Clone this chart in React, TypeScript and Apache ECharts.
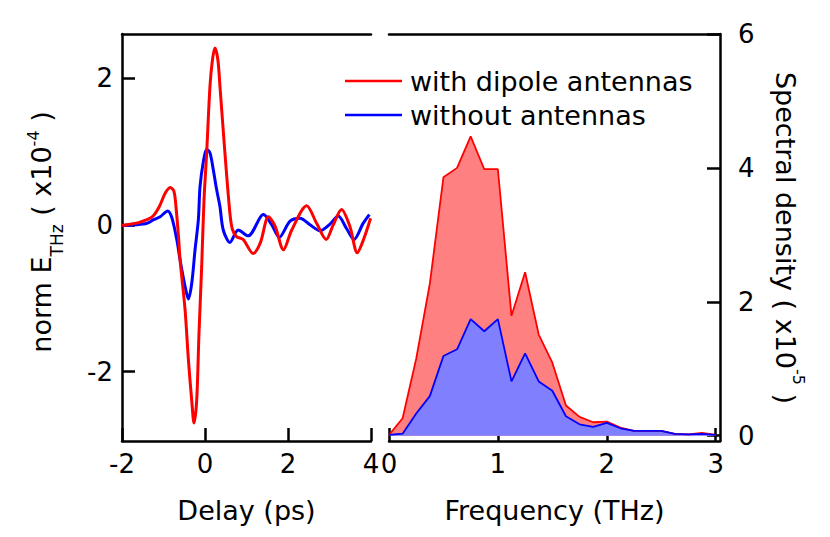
import React, { useEffect, useRef } from 'react';
import * as echarts from 'echarts';

// Time domain (left panel): delay in ps, field in units of 1e-4
const delayRed = [-2.0, -1.8, -1.6, -1.4, -1.25, -1.1, -0.96, -0.84, -0.75, -0.7, -0.64, -0.6, -0.48, -0.4, -0.32, -0.265, -0.2, -0.145, -0.08, -0.024, 0.04, 0.12, 0.18, 0.24, 0.31, 0.36, 0.48, 0.6, 0.66, 0.76, 0.92, 1.16, 1.33, 1.53, 1.69, 1.89, 2.09, 2.45, 2.69, 2.92, 3.09, 3.29, 3.49, 3.67, 3.82, 3.99];
const fieldRed = [-0.01, 0.01, 0.03, 0.07, 0.12, 0.25, 0.43, 0.51, 0.46, 0.25, -0.15, -0.48, -1.16, -1.84, -2.39, -2.7, -2.39, -1.48, -0.57, 0.34, 0.98, 1.89, 2.25, 2.41, 2.25, 1.89, 0.98, 0.16, -0.06, -0.16, -0.2, -0.39, -0.25, 0.11, -0.02, -0.34, -0.07, 0.26, 0.02, -0.2, 0.0, 0.21, -0.02, -0.38, -0.2, 0.09];
const delayBlue = [-2.0, -1.7, -1.4, -1.24, -1.08, -0.9, -0.8, -0.68, -0.6, -0.48, -0.4, -0.32, -0.24, -0.16, -0.12, -0.04, 0.04, 0.12, 0.2, 0.28, 0.36, 0.44, 0.6, 0.8, 1.04, 1.41, 1.61, 1.79, 2.05, 2.29, 2.53, 2.77, 3.01, 3.21, 3.41, 3.59, 3.81, 3.96];
const fieldBlue = [-0.01, 0.0, 0.02, 0.07, 0.11, 0.19, 0.1, -0.2, -0.48, -0.84, -1.01, -0.8, -0.34, 0.07, 0.52, 0.86, 1.03, 0.98, 0.75, 0.48, 0.25, -0.07, -0.24, -0.07, -0.15, 0.14, 0.0, -0.17, 0.05, 0.09, 0.0, -0.08, 0.01, 0.12, -0.05, -0.2, 0.02, 0.14];

// Frequency domain (right panel): THz, spectral density in units of 1e-5
const freq = [0, 0.125, 0.25, 0.375, 0.5, 0.625, 0.75, 0.875, 1.0, 1.125, 1.25, 1.375, 1.5, 1.625, 1.75, 1.875, 2.0, 2.125, 2.25, 2.375, 2.5, 2.625, 2.75, 2.875, 3.0];
const specRed = [0.01, 0.26, 1.15, 2.27, 3.86, 4.0, 4.47, 3.98, 3.98, 1.79, 2.44, 1.51, 1.09, 0.45, 0.28, 0.2, 0.21, 0.12, 0.07, 0.07, 0.07, 0.025, 0.02, 0.04, 0.01];
const specBlue = [0.01, 0.03, 0.33, 0.59, 1.19, 1.29, 1.74, 1.56, 1.74, 0.81, 1.23, 0.81, 0.67, 0.29, 0.17, 0.13, 0.19, 0.11, 0.07, 0.07, 0.07, 0.025, 0.02, 0.025, 0.01];

const delayTicks = [-2, 0, 2, 4];
const fieldTicks = [-2, 0, 2];
const freqTicks = [0, 1, 2, 3];
const specTicks = [0, 2, 4, 6];

const nameRed = 'with dipole antennas';
const nameBlue = 'without antennas';

const FONT = 'DejaVu Sans';

function zip(a: number[], b: number[]) {
  return a.map((v, i) => [v, b[i]]);
}

export default function App() {
  const ref = useRef<HTMLDivElement>(null);
  useEffect(() => {
    if (!ref.current) return;
    const chart = echarts.init(ref.current, undefined, { renderer: 'svg' });
    const axisLine = { show: true, onZero: false, lineStyle: { color: '#000', width: 2.5 } };
    const tick = (vals: number[]) => ({ show: true, inside: true, length: 13, lineStyle: { color: '#000', width: 2.5 }, customValues: vals });
    const label = (vals: number[], margin: number) => ({ show: true, color: '#000', fontSize: 26, fontFamily: FONT, margin, customValues: vals });
    const nameStyle = { color: '#000', fontSize: 27, fontFamily: FONT };
    chart.setOption({
      animation: false,
      backgroundColor: '#fff',
      grid: [
        { left: 122, top: 34, width: 249, height: 407 },
        { left: 389, top: 34, width: 331, height: 407 },
      ],
      legend: {
        data: [nameRed, nameBlue],
        orient: 'vertical',
        left: 340,
        top: 61,
        icon: 'rect',
        itemWidth: 57,
        itemHeight: 2.5,
        itemGap: 4,
        textStyle: { color: '#000', fontSize: 27, fontFamily: FONT, lineHeight: 30, padding: [0, 0, 0, 3] },
      },
      xAxis: [
        {
          type: 'value', gridIndex: 0, min: -2, max: 4, position: 'bottom',
          axisLine, axisTick: tick(delayTicks), axisLabel: label(delayTicks, 10), splitLine: { show: false },
          name: 'Delay (ps)', nameLocation: 'middle', nameGap: 56, nameTextStyle: nameStyle,
        },
        {
          type: 'value', gridIndex: 1, min: 0, max: 3.04, position: 'bottom',
          axisLine, axisTick: tick(freqTicks), axisLabel: label(freqTicks, 10), splitLine: { show: false },
          name: 'Frequency (THz)', nameLocation: 'middle', nameGap: 56, nameTextStyle: nameStyle,
        },
        {
          type: 'value', gridIndex: 0, min: -2, max: 4, position: 'top',
          axisLine, axisTick: { show: false }, axisLabel: { show: false }, splitLine: { show: false },
        },
        {
          type: 'value', gridIndex: 1, min: 0, max: 3.04, position: 'top',
          axisLine, axisTick: { show: false }, axisLabel: { show: false }, splitLine: { show: false },
        },
      ],
      yAxis: [
        {
          type: 'value', gridIndex: 0, min: -2.945, max: 2.6, position: 'left',
          axisLine, axisTick: tick(fieldTicks), axisLabel: label(fieldTicks, 9), splitLine: { show: false },
        },
        {
          type: 'value', gridIndex: 1, min: -0.08, max: 6, position: 'right',
          axisLine, axisTick: tick(specTicks), axisLabel: label(specTicks, 18), splitLine: { show: false },
        },
      ],
      graphic: [
        {
          type: 'text', x: 41, y: 232, rotation: Math.PI / 2,
          style: {
            text: '{a|norm E}{b|THz}{a| ( x10}{c|-4}{a| )}',
            fill: '#000', align: 'center', verticalAlign: 'middle', textAlign: 'center', textVerticalAlign: 'middle',
            fontSize: 27, fontFamily: FONT,
            rich: {
              a: { fontSize: 27, fontFamily: FONT, lineHeight: 27, verticalAlign: 'middle', fill: '#000' },
              b: { fontSize: 17, fontFamily: FONT, lineHeight: 17, verticalAlign: 'middle', padding: [32, 0, 0, 0], fill: '#000' },
              c: { fontSize: 16, fontFamily: FONT, lineHeight: 16, verticalAlign: 'middle', padding: [0, 0, 16, 0], fill: '#000' },
            },
          },
        },
        {
          type: 'text', x: 785, y: 238, rotation: -Math.PI / 2,
          style: {
            text: '{a|Spectral density ( x10}{c|-5}{a| )}',
            fill: '#000', align: 'center', verticalAlign: 'middle', textAlign: 'center', textVerticalAlign: 'middle',
            fontSize: 27, fontFamily: FONT,
            rich: {
              a: { fontSize: 27, fontFamily: FONT, lineHeight: 27, verticalAlign: 'middle', fill: '#000' },
              c: { fontSize: 16, fontFamily: FONT, lineHeight: 16, verticalAlign: 'middle', padding: [0, 0, 27, 0], fill: '#000' },
            },
          },
        },
      ],
      series: [
        {
          name: nameRed, type: 'line', xAxisIndex: 0, yAxisIndex: 0, data: zip(delayRed, fieldRed),
          smooth: 0.3, showSymbol: false, symbol: 'none', color: '#ff0000',
          itemStyle: { color: '#ff0000' }, lineStyle: { color: '#ff0000', width: 3 }, z: 3,
        },
        {
          name: nameBlue, type: 'line', xAxisIndex: 0, yAxisIndex: 0, data: zip(delayBlue, fieldBlue),
          smooth: 0.3, showSymbol: false, symbol: 'none', color: '#0000ff',
          itemStyle: { color: '#0000ff' }, lineStyle: { color: '#0000ff', width: 3 }, z: 2,
        },
        {
          name: nameRed, type: 'line', xAxisIndex: 1, yAxisIndex: 1, data: zip(freq, specRed),
          showSymbol: false, symbol: 'none', color: '#ff0000',
          itemStyle: { color: '#ff0000' }, lineStyle: { color: '#ff0000', width: 1.8 },
          areaStyle: { color: '#ff8080', opacity: 1 },
        },
        {
          name: nameBlue, type: 'line', xAxisIndex: 1, yAxisIndex: 1, data: zip(freq, specBlue),
          showSymbol: false, symbol: 'none', color: '#0000ff',
          itemStyle: { color: '#0000ff' }, lineStyle: { color: '#0000ff', width: 1.8 },
          areaStyle: { color: '#8080ff', opacity: 1 },
        },
      ],
    });
    return () => chart.dispose();
  }, []);
  return <div ref={ref} style={{ position: 'absolute', left: 0, top: 0, width: 830, height: 537 }} />;
}
